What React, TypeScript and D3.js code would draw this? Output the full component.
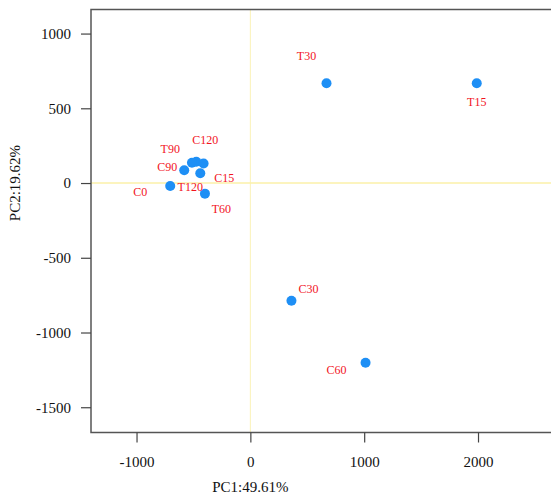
import React, { useRef, useEffect } from "react";
import * as d3 from "d3";

// PCA scores
const samples = ["C0", "C15", "C30", "C60", "C90", "C120", "T15", "T30", "T60", "T90", "T120"];
const pc1 = [-704, -440, 361, 1012, -581, -475, 1989, 669, -399, -513, -411];
const pc2 = [-20, 65, -788, -1202, 85, 142, 667, 667, -71, 136, 131];
// where each label sits (data units)
const labelPc1 = [-968, -229, 511, 757, -731, -396, 1989, 493, -255, -704, -528];
const labelPc2 = [-60, 33, -708, -1248, 107, 287, 541, 848, -174, 227, -27];

const xTicks = [-1000, 0, 1000, 2000];
const yTicks = [1000, 500, 0, -500, -1000, -1500];

const W = 551;
const H = 498;

const App = () => {
  const svgRef = useRef<SVGSVGElement>(null);

  useEffect(() => {
    const svg = d3.select(svgRef.current);
    svg.selectAll("*").remove();

    const left = 91, right = 552, top = 9.5, bottom = 432.5;

    const x = d3.scaleLinear().domain([-1400, 2650]).range([left, right]);
    const y = d3.scaleLinear().domain([-1669, 1161]).range([bottom, top]);

    const font = "Liberation Serif, Times New Roman, serif";

    // zero reference lines
    svg.append("line")
      .attr("x1", x(0)).attr("x2", x(0))
      .attr("y1", top).attr("y2", bottom)
      .attr("stroke", "#fbf3b8").attr("stroke-width", 1);
    svg.append("line")
      .attr("x1", left).attr("x2", right)
      .attr("y1", y(0)).attr("y2", y(0))
      .attr("stroke", "#fbf0a8").attr("stroke-width", 1.5);

    // box
    svg.append("path")
      .attr("d", `M${right},${top}H${left}V${bottom}H${right}`)
      .attr("fill", "none").attr("stroke", "#555").attr("stroke-width", 1.5);

    // x axis
    const xa = svg.append("g").attr("transform", `translate(0,${bottom})`)
      .call(d3.axisBottom(x).tickValues(xTicks).tickSize(10).tickPadding(14).tickFormat((d) => String(d)));
    xa.select(".domain").remove();
    xa.selectAll("line").attr("stroke", "#444").attr("stroke-width", 1.2);
    xa.selectAll("text").attr("font-family", font).attr("font-size", 15).attr("fill", "#111");

    // y axis
    const ya = svg.append("g").attr("transform", `translate(${left},0)`)
      .call(d3.axisLeft(y).tickValues(yTicks).tickSize(10).tickPadding(10).tickFormat((d) => String(d)));
    ya.select(".domain").remove();
    ya.selectAll("line").attr("stroke", "#444").attr("stroke-width", 1.2);
    ya.selectAll("text").attr("font-family", font).attr("font-size", 15).attr("fill", "#111");

    svg.append("text")
      .attr("x", x(0)).attr("y", 492)
      .attr("text-anchor", "middle")
      .attr("font-family", font).attr("font-size", 15).attr("fill", "#111")
      .text("PC1:49.61%");

    svg.append("text")
      .attr("transform", `translate(20,${y(0)}) rotate(-90)`)
      .attr("text-anchor", "middle")
      .attr("font-family", font).attr("font-size", 15).attr("fill", "#111")
      .text("PC2:19.62%");

    const data = samples.map((s, i) => ({
      name: s, pc1: pc1[i], pc2: pc2[i], lx: labelPc1[i], ly: labelPc2[i],
    }));

    svg.append("g").selectAll("circle")
      .data(data).enter().append("circle")
      .attr("cx", (d) => x(d.pc1))
      .attr("cy", (d) => y(d.pc2))
      .attr("r", 5)
      .attr("fill", "#1e8ff5");

    svg.append("g").selectAll("text")
      .data(data).enter().append("text")
      .attr("x", (d) => x(d.lx))
      .attr("y", (d) => y(d.ly))
      .attr("dy", "0.35em")
      .attr("text-anchor", "middle")
      .attr("font-family", font).attr("font-size", 12).attr("fill", "#f2141e")
      .text((d) => d.name);
  }, []);

  return (
    <div style={{ position: "absolute", left: 0, top: 0, background: "#fff" }}>
      <svg ref={svgRef} width={W} height={H} style={{ display: "block" }}></svg>
    </div>
  );
};

export default App;
